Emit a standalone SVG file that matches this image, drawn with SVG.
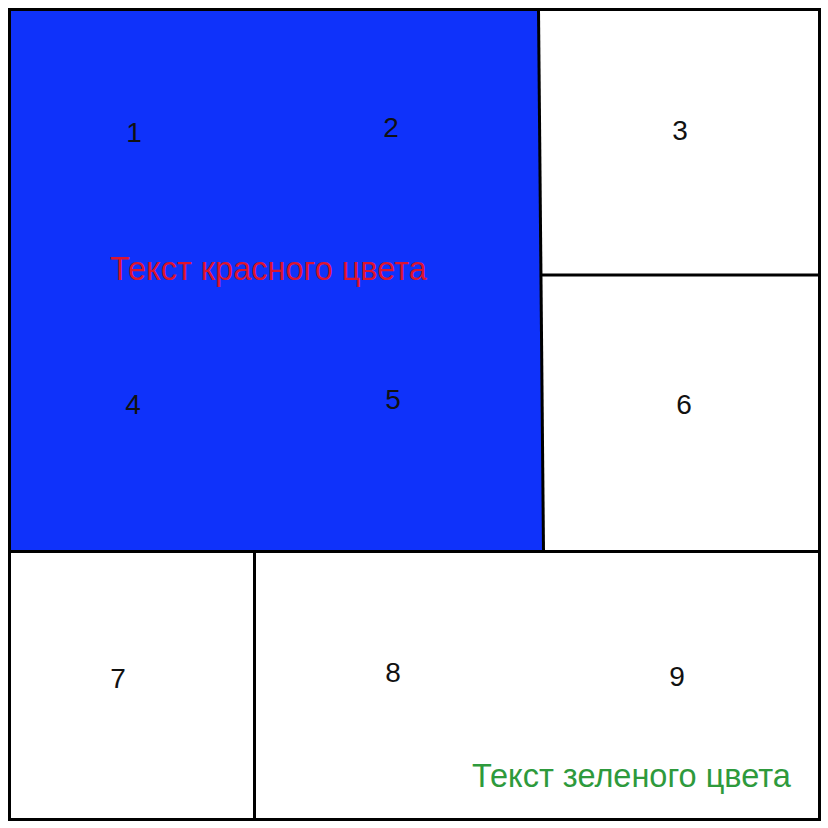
<svg xmlns="http://www.w3.org/2000/svg" width="828" height="828" viewBox="0 0 828 828">
<style>
.ln{stroke:#000;stroke-width:3;fill:none}
.num{font-family:"Liberation Sans",Arial,sans-serif;font-size:28px;fill:#111;text-anchor:middle}
.lbl{font-family:"Liberation Sans",Arial,sans-serif;font-size:32.5px}
</style>
<rect x="0" y="0" width="828" height="828" fill="#fff"/>
<polygon id="blue" points="10,10 538,10 543,551 10,551" fill="#0f32fa"/>
<g id="connectors">
<line class="ln" x1="538.5" y1="10" x2="543.5" y2="551"/>
<line class="ln" x1="540" y1="275" x2="820" y2="275"/>
<line class="ln" x1="9" y1="551.5" x2="820" y2="551.5"/>
<line class="ln" x1="254.5" y1="551" x2="254.5" y2="820"/>
<rect class="ln" x="9.5" y="9.5" width="810" height="810"/>
</g>
<g id="n1"><text class="num" x="134" y="142">1</text></g>
<g id="n2"><text class="num" x="391" y="137">2</text></g>
<g id="n3"><text class="num" x="680" y="140">3</text></g>
<g id="n4"><text class="num" x="133" y="414">4</text></g>
<g id="n5"><text class="num" x="393" y="409">5</text></g>
<g id="n6"><text class="num" x="684" y="414">6</text></g>
<g id="n7"><text class="num" x="118" y="688">7</text></g>
<g id="n8"><text class="num" x="393" y="682">8</text></g>
<g id="n9"><text class="num" x="677" y="686">9</text></g>
<g id="red"><text class="lbl" x="110" y="280" fill="#dc1430">Текст красного цвета</text></g>
<g id="green"><text class="lbl" x="472" y="787" fill="#2e9a3c">Текст зеленого цвета</text></g>
</svg>
